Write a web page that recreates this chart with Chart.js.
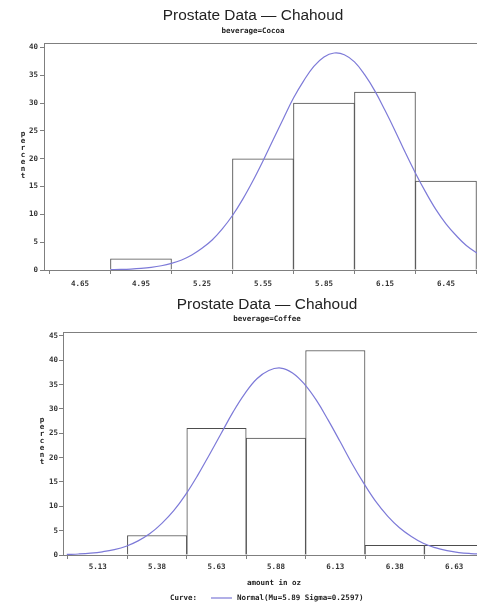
<!DOCTYPE html>
<html>
<head>
    <title>Prostate Data - Chahoud</title>
    <script src="https://cdn.jsdelivr.net/npm/chart.js"></script>
    <style>
        html, body { margin: 0; padding: 0; background: #fff; overflow: hidden; width: 477px; height: 606px; }
        canvas { position: absolute; left: 0; }
    </style>
</head>
<body>
    <canvas id="cocoaChart" width="506" height="292" style="top:0"></canvas>
    <canvas id="coffeeChart" width="534" height="314" style="top:292px"></canvas>
    <script>
        // cocoa histogram (percent per bin, bins centred on the midpoints)
        var cocoaMid = [4.95, 5.55, 5.85, 6.15, 6.45];
        var cocoaPct = [2, 20, 30, 32, 16];
        var cocoaTicks = [4.65, 4.95, 5.25, 5.55, 5.85, 6.15, 6.45];
        var cocoaCurveX = [4.80, 4.85, 4.90, 4.95, 5.00, 5.05, 5.10, 5.15, 5.20, 5.25, 5.30, 5.35, 5.40,
            5.45, 5.50, 5.55, 5.60, 5.65, 5.70, 5.75, 5.80, 5.85, 5.90, 5.95, 6.00, 6.05, 6.10,
            6.15, 6.20, 6.25, 6.30, 6.35, 6.40, 6.45, 6.50, 6.55, 6.60, 6.65, 6.70];
        var cocoaCurveY = [0.06, 0.1, 0.17, 0.29, 0.48, 0.77, 1.2, 1.8, 2.7, 3.9, 5.4, 7.4, 9.8,
            12.7, 16.0, 19.6, 23.4, 27.2, 30.9, 34.0, 36.6, 38.3, 39.0, 38.7, 37.4, 35.1, 32.2,
            28.7, 25.0, 21.1, 17.4, 14.0, 10.9, 8.3, 6.2, 4.4, 3.1, 2.1, 1.4];

        // coffee histogram
        var coffeeMid = [5.38, 5.63, 5.88, 6.13, 6.38, 6.63];
        var coffeePct = [4, 26, 24, 42, 2, 2];
        var coffeeTicks = [5.13, 5.38, 5.63, 5.88, 6.13, 6.38, 6.63, 6.88];
        var coffeeCurveX = [5.00, 5.05, 5.10, 5.15, 5.20, 5.25, 5.30, 5.35, 5.40, 5.45, 5.50, 5.55,
            5.60, 5.65, 5.70, 5.75, 5.80, 5.85, 5.90, 5.95, 6.00, 6.05, 6.10, 6.15, 6.20, 6.25,
            6.30, 6.35, 6.40, 6.45, 6.50, 6.55, 6.60, 6.65, 6.70, 6.75];
        var coffeeCurveY = [0.11, 0.21, 0.38, 0.66, 1.1, 1.8, 2.9, 4.4, 6.5, 9.1, 12.4, 16.3,
            20.6, 25.0, 29.4, 33.2, 36.2, 37.9, 38.4, 37.4, 35.1, 31.8, 27.7, 23.3, 18.8, 14.7,
            11.0, 8.0, 5.6, 3.8, 2.4, 1.5, 0.9, 0.5, 0.3, 0.2];

        var yTicksCocoa = [0, 5, 10, 15, 20, 25, 30, 35, 40];
        var yTicksCoffee = [0, 5, 10, 15, 20, 25, 30, 35, 40, 45];

        var monoFont = { family: '"DejaVu Sans Mono", monospace', size: 7.5, weight: 'bold' };
        var frameColor = '#7f7f7f';
        var curveColor = '#7d7ad8';

        // frame top line, titles and the stacked "percent" label
        var framePlugin = {
            id: 'frame',
            afterDraw: function(chart, args, o) {
                var ctx = chart.ctx, a = chart.chartArea;
                ctx.save();
                ctx.strokeStyle = frameColor;
                ctx.lineWidth = 1;
                ctx.beginPath();
                ctx.moveTo(a.left, Math.round(a.top) + 0.5);
                ctx.lineTo(a.right, Math.round(a.top) + 0.5);
                ctx.stroke();

                ctx.fillStyle = '#222';
                ctx.textAlign = 'center';
                ctx.textBaseline = 'middle';
                ctx.font = '15.4px "Liberation Sans", Arial, sans-serif';
                ctx.fillText('Prostate Data \u2014 Chahoud', chart.width / 2, o.titleY);
                ctx.font = 'bold 7.5px "DejaVu Sans Mono", monospace';
                ctx.fillText(o.subtitle, chart.width / 2, o.subY);

                'percent'.split('').forEach(function(c, i) {
                    ctx.fillText(c, o.labelX, o.labelY + i * 7);
                });

                if (o.xTitle) {
                    ctx.fillText(o.xTitle, o.xTitleX, o.xTitleY);
                    ctx.textAlign = 'left';
                    ctx.fillText('Curve:', o.legendX, o.legendY);
                    ctx.strokeStyle = curveColor;
                    ctx.lineWidth = 1.2;
                    ctx.beginPath();
                    ctx.moveTo(o.legendX + 41, o.legendY);
                    ctx.lineTo(o.legendX + 62, o.legendY);
                    ctx.stroke();
                    ctx.fillText('Normal(Mu=5.89 Sigma=0.2597)', o.legendX + 67, o.legendY);
                }
                ctx.restore();
            }
        };

        function makeChart(id, mids, pcts, curveX, curveY, xTicks, yTicks, cfg) {
            var ctx = document.getElementById(id).getContext('2d');
            return new Chart(ctx, {
                type: 'bar',
                data: {
                    datasets: [{
                        type: 'line',
                        data: curveX.map(function(x, i) { return { x: x, y: curveY[i] }; }),
                        borderColor: curveColor,
                        borderWidth: 1.2,
                        pointRadius: 0,
                        tension: 0.4,
                        order: 0
                    }, {
                        data: mids.map(function(x, i) { return { x: x, y: pcts[i] }; }),
                        backgroundColor: '#ffffff',
                        borderColor: '#4d4d4d',
                        borderWidth: { top: 1, left: 1, right: 1 },
                        borderSkipped: 'start',
                        barPercentage: 1,
                        categoryPercentage: 1,
                        order: 1
                    }]
                },
                options: {
                    responsive: false,
                    animation: false,
                    layout: { padding: { top: cfg.top, right: 10, left: 0, bottom: 0 } },
                    plugins: {
                        legend: { display: false },
                        tooltip: { enabled: false },
                        frame: cfg.frame
                    },
                    scales: {
                        x: {
                            type: 'linear',
                            offset: false,
                            min: cfg.xMin,
                            max: cfg.xMax,
                            afterBuildTicks: function(s) { s.ticks = xTicks.map(function(v) { return { value: v }; }); },
                            afterFit: function(s) { s.height = cfg.xHeight; },
                            ticks: {
                                font: monoFont, color: '#333', padding: cfg.xPad, maxRotation: 0,
                                callback: function(v) { return Number(v).toFixed(2); }
                            },
                            grid: { drawOnChartArea: false, tickLength: 4, color: frameColor },
                            border: { color: frameColor }
                        },
                        y: {
                            min: 0,
                            max: cfg.yMax,
                            afterBuildTicks: function(s) { s.ticks = yTicks.map(function(v) { return { value: v }; }); },
                            afterFit: function(s) { s.width = cfg.yWidth; },
                            ticks: { font: monoFont, color: '#333', padding: cfg.yPad },
                            grid: { drawOnChartArea: false, tickLength: 4, color: frameColor },
                            border: { color: frameColor }
                        }
                    }
                },
                plugins: [framePlugin]
            });
        }

        makeChart('cocoaChart', cocoaMid, cocoaPct, cocoaCurveX, cocoaCurveY, cocoaTicks, yTicksCocoa, {
            top: 43, xMin: 4.473, xMax: 6.696, yMax: 40.8, xHeight: 22, yWidth: 44, xPad: 6, yPad: 2,
            frame: { titleY: 16, subtitle: 'beverage=Cocoa', subY: 31, labelX: 23, labelY: 134 }
        });

        makeChart('coffeeChart', coffeeMid, coffeePct, coffeeCurveX, coffeeCurveY, coffeeTicks, yTicksCoffee, {
            top: 40, xMin: 4.984, xMax: 6.924, yMax: 45.8, xHeight: 51, yWidth: 63, xPad: 4, yPad: 1,
            frame: {
                titleY: 13, subtitle: 'beverage=Coffee', subY: 27, labelX: 42, labelY: 128,
                xTitle: 'amount in oz', xTitleX: 274, xTitleY: 291, legendX: 170, legendY: 306
            }
        });
    </script>
</body>
</html>
